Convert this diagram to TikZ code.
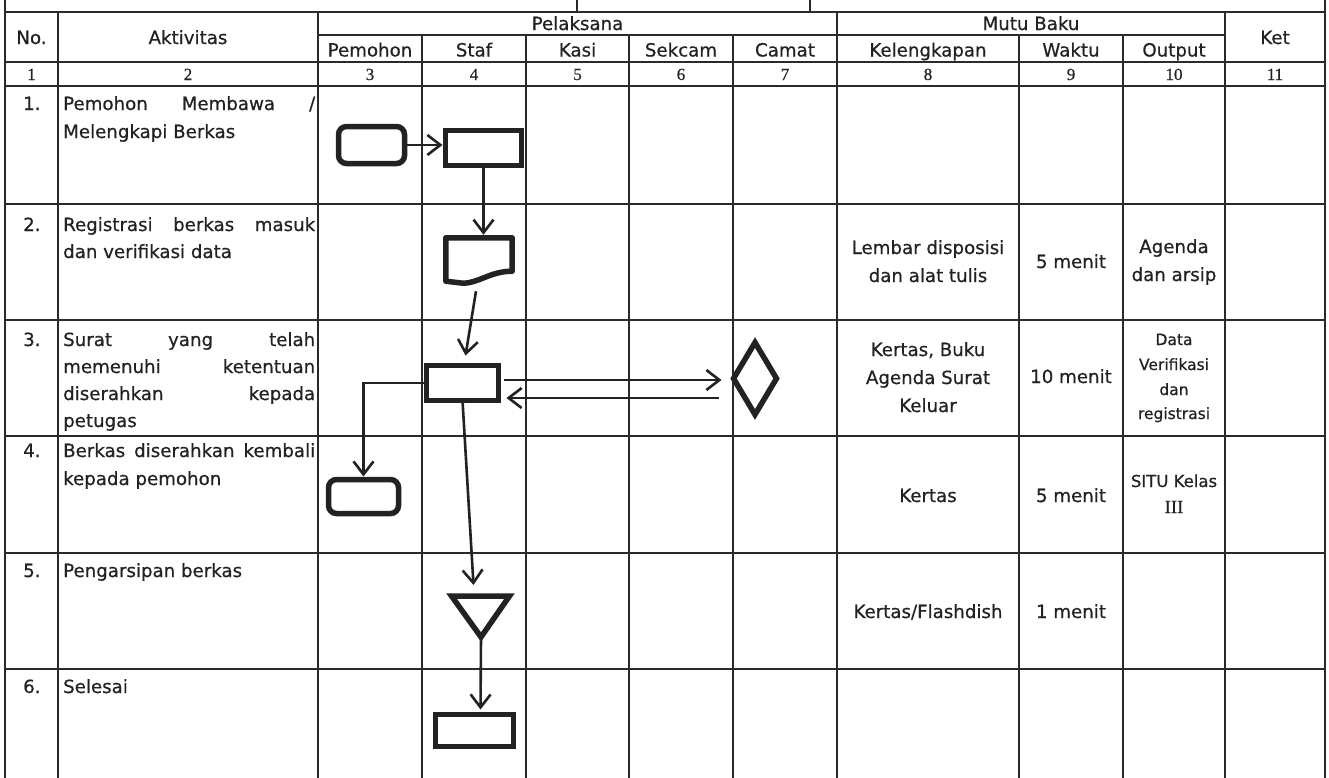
\documentclass[tikz,border=0pt]{standalone}
\usepackage{fontspec}
\setmainfont{DejaVu Sans}[FakeBold=0.6]
\newfontfamily\numfont{Liberation Serif}[FakeBold=0.6]
\usetikzlibrary{arrows.meta,shapes.geometric,calc}

\definecolor{ink}{HTML}{222222}
\definecolor{rule}{HTML}{2A2A2A}

\tikzset{
  grid/.style={draw=rule, line width=2.2pt, line cap=rect},
  shp/.style={draw=ink, line width=5.5pt, inner sep=0pt, outer sep=0pt},
  box/.style={shp, rectangle},
  rbox/.style={shp, rectangle, rounded corners=8pt},
  dia/.style={shp, diamond},
  arr/.style={draw=ink, line width=2.6pt, -{Straight Barb[length=13pt,width=20pt]}},
  txt/.style={anchor=base, inner sep=0pt, text=ink, font=\fontsize{18.2}{27}\selectfont},
  ltxt/.style={txt, anchor=base west},
  small/.style={txt, font=\fontsize{15.5}{20}\selectfont},
  smallb/.style={txt, font=\fontsize{16.5}{20}\selectfont},
  num/.style={anchor=base, inner sep=0pt, text=ink, font=\numfont\fontsize{17}{18}\selectfont},
  roman/.style={anchor=base, inner sep=0pt, text=ink, font=\numfont\fontsize{18.5}{20}\selectfont},
}
\newcommand{\just}[1]{\makebox[252pt][s]{#1}}

\begin{document}
\begin{tikzpicture}[x=1pt,y=-1pt]
\useasboundingbox (0,0) rectangle (1329,777);

% ---------- table grid ----------
% outer borders and stubs of the row above
\draw[grid] (5,0) -- (5,777);
\draw[grid] (1325,0) -- (1325,777);
\draw[grid] (577,0) -- (577,12);
\draw[grid] (810,0) -- (810,12);
% full-height column rules
\foreach \x in {58,318,837,1225} \draw[grid] (\x,12) -- (\x,777);
% sub-column rules under Pelaksana and Mutu Baku
\foreach \x in {422,526,629,733,1019,1123} \draw[grid] (\x,35) -- (\x,777);
% horizontal rules
\draw[grid] (5,12) -- (1325,12);
\draw[grid] (318,35) -- (1225,35);
\foreach \y in {62,86,204,320,436,553,669} \draw[grid] (5,\y) -- (1325,\y);

% ---------- header ----------
\node[txt] (h-no)  at (31.5,44)  {No.};
\node[txt] (h-akt) at (188,44)   {Aktivitas};
\node[txt] (h-pel) at (577.5,30) {Pelaksana};
\node[txt] (h-pem) at (370,56.5) {Pemohon};
\node[txt] (h-stf) at (474,56.5) {Staf};
\node[txt] (h-ksi) at (577.5,56.5) {Kasi};
\node[txt] (h-sek) at (681,56.5) {Sekcam};
\node[txt] (h-cmt) at (785,56.5) {Camat};
\node[txt] (h-mtb) at (1031,30)  {Mutu Baku};
\node[txt] (h-kel) at (928,56.5) {Kelengkapan};
\node[txt] (h-wkt) at (1071,56.5) {Waktu};
\node[txt] (h-out) at (1174,56.5) {Output};
\node[txt] (h-ket) at (1275,44)  {Ket};

% column numbers
\foreach \cx/\lab [count=\i] in {31.5/1,188/2,370/3,474/4,577.5/5,681/6,785/7,928/8,1071/9,1174/10,1275/11}
  \node[num] (n-\i) at (\cx,80) {\lab};

% ---------- activity column ----------
\node[ltxt] (no-1) at (23,110) {1.};
\node[ltxt] (no-2) at (23,231) {2.};
\node[ltxt] (no-3) at (23,346) {3.};
\node[ltxt] (no-4) at (23,457) {4.};
\node[ltxt] (no-5) at (23,577) {5.};
\node[ltxt] (no-6) at (23,693) {6.};

\node[ltxt] (a1-1) at (63,110) {\just{Pemohon Membawa /}};
\node[ltxt] (a1-2) at (63,138) {Melengkapi Berkas};
\node[ltxt] (a2-1) at (63,231) {\just{Registrasi berkas masuk}};
\node[ltxt] (a2-2) at (63,258) {dan verifikasi data};
\node[ltxt] (a3-1) at (63,346) {\just{Surat yang telah}};
\node[ltxt] (a3-2) at (63,373) {\just{memenuhi ketentuan}};
\node[ltxt] (a3-3) at (63,400) {\just{diserahkan kepada}};
\node[ltxt] (a3-4) at (63,427) {petugas};
\node[ltxt] (a4-1) at (63,457) {\just{Berkas diserahkan kembali}};
\node[ltxt] (a4-2) at (63,485) {kepada pemohon};
\node[ltxt] (a5-1) at (63,577) {Pengarsipan berkas};
\node[ltxt] (a6-1) at (63,693) {Selesai};

% ---------- quality standard columns ----------
\node[txt] (k2-1) at (928,254) {Lembar disposisi};
\node[txt] (k2-2) at (928,282) {dan alat tulis};
\node[txt] (w2)   at (1071,268) {5 menit};
\node[txt] (o2-1) at (1174,253) {Agenda};
\node[txt] (o2-2) at (1174,281) {dan arsip};

\node[txt] (k3-1) at (928,356) {Kertas, Buku};
\node[txt] (k3-2) at (928,384) {Agenda Surat};
\node[txt] (k3-3) at (928,412) {Keluar};
\node[txt] (w3)   at (1071,383) {10 menit};
\node[small] (o3-1) at (1174,345) {Data};
\node[small] (o3-2) at (1174,370) {Verifikasi};
\node[small] (o3-3) at (1174,395) {dan};
\node[small] (o3-4) at (1174,419) {registrasi};

\node[txt] (k4)   at (928,502) {Kertas};
\node[txt] (w4)   at (1071,502) {5 menit};
\node[smallb] (o4-1) at (1174,487) {SITU Kelas};
\node[roman] (o4-2) at (1174,513) {III};

\node[txt] (k5) at (928,618) {Kertas/Flashdish};
\node[txt] (w5) at (1071,618) {1 menit};

% ---------- flow symbols ----------
\node[rbox, minimum width=66pt, minimum height=37pt] (s1) at (371.5,145) {};
\node[box,  minimum width=76pt, minimum height=35pt] (s2) at (483.5,148) {};
% document symbol
\node[inner sep=0pt, minimum width=66pt, minimum height=43pt] (s3) at (479,259.5) {};
\draw[draw=ink, line width=5.5pt, line join=round]
  (s3.north west) -- (s3.north east) -- ([yshift=10pt]s3.south east)
  .. controls +(-22,0) and +(16,0) .. ([xshift=17pt,yshift=-2pt]s3.south west)
  -- (s3.south west) -- cycle;
\node[box,  minimum width=72pt, minimum height=35pt] (s4) at (462.5,383) {};
\node[dia,  minimum width=43pt, minimum height=72pt] (d) at (755,378.5) {};
\node[rbox, minimum width=70pt, minimum height=34pt] (s5) at (363.5,496.5) {};
% storage triangle
\coordinate (t5top) at (480.5,596);
\coordinate (t5tip) at (481,637);
\draw[draw=ink, line width=5.5pt, line join=miter]
  ($(t5top)+(-29,0)$) -- ($(t5top)+(29,0)$) -- (t5tip) -- cycle;
\node[box,  minimum width=78pt, minimum height=32pt] (s6) at (474.5,730.5) {};

% ---------- connectors ----------
\draw[arr] (s1.east) -- ($(s1.east -| s2.west)+(-3,0)$);
\draw[arr] (s2.south) -- ($(s2.south |- s3.north)+(0,-3)$);
\draw[arr] ($(s3.south)+(-3,10)$) -- ($(s4.north)+(3,-10)$);
\draw[arr] (s4.west) -| ($(s5.north)+(0,-3)$);
\draw[arr] ($(s4.east)+(5,-3)$) -- ($(s4.east -| d.west)+(-12,-3)$);
\draw[arr] ($(s4.east -| d.west)+(-15,15)$) -- ($(s4.east)+(8,15)$);
\draw[arr] (s4.south) -- ($(t5top)+(-7,-11)$);
\draw[arr] (t5tip) -- ($(s6.north)+(6,-5)$);
\end{tikzpicture}
\end{document}
